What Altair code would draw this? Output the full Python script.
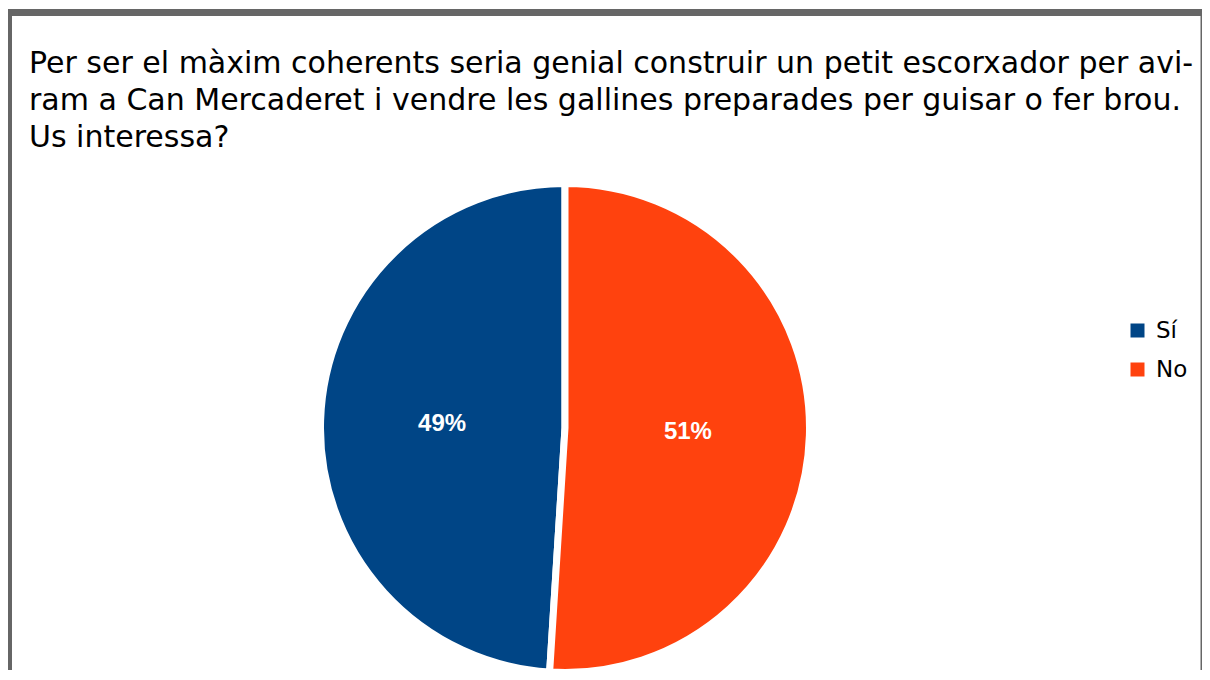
import altair as alt
import pandas as pd

categories = ["Sí", "No"]
values = [49, 51]
labels = ["49%", "51%"]
stack_order = [2, 1]
colors = ["#004586", "#ff420e"]
title_lines = [
    "Per ser el màxim coherents seria genial construir un petit escorxador per avi-",
    "ram a Can Mercaderet i vendre les gallines preparades per guisar o fer brou.",
    "Us interessa?",
]

df = pd.DataFrame({"cat": categories, "val": values, "lab": labels, "ord": stack_order})

W, H = 1194, 662
CX, CY = 557, 420

base = alt.Chart(df).encode(
    theta=alt.Theta("val:Q", stack=True),
    order=alt.Order("ord:Q"),
)

pie = base.mark_arc(stroke="white", strokeWidth=7, outerRadius=244.5).encode(
    x=alt.value(CX),
    y=alt.value(CY),
    color=alt.Color(
        "cat:N",
        scale=alt.Scale(domain=categories, range=colors),
        legend=alt.Legend(
            title=None,
            orient="none",
            legendX=1118,
            legendY=311,
            symbolType="square",
            symbolSize=196,
            symbolStrokeWidth=0,
            labelFontSize=23,
            labelFont="DejaVu Sans",
            labelColor="#000000",
            labelOffset=7,
            rowPadding=15,
        ),
    ),
)

text = base.mark_text(
    radius=123, font="Liberation Sans", fontSize=24, fontWeight="bold", color="white"
).encode(x=alt.value(CX), y=alt.value(CY), text="lab:N")

border = alt.Chart(pd.DataFrame({"k": [0]})).mark_rect(
    fill=None, stroke="#666666", strokeWidth=7
).encode(
    x=alt.value(0.5), x2=alt.value(W + 2), y=alt.value(4.5), y2=alt.value(H + 40)
)

chart = alt.layer(border, pie, text).properties(
    width=W,
    height=H,
    autosize=alt.AutoSizeParams(type="none"),
    padding=0,
    title=alt.TitleParams(
        text=title_lines,
        anchor="start",
        orient="top",
        frame="group",
        font="DejaVu Sans",
        fontSize=30,
        fontWeight="normal",
        color="#000000",
        lineHeight=37,
        baseline="alphabetic",
        dx=21,
        dy=173,
    ),
).configure_view(stroke=None)

chart.save("out.html", embed_options={"renderer": "svg", "actions": False})
